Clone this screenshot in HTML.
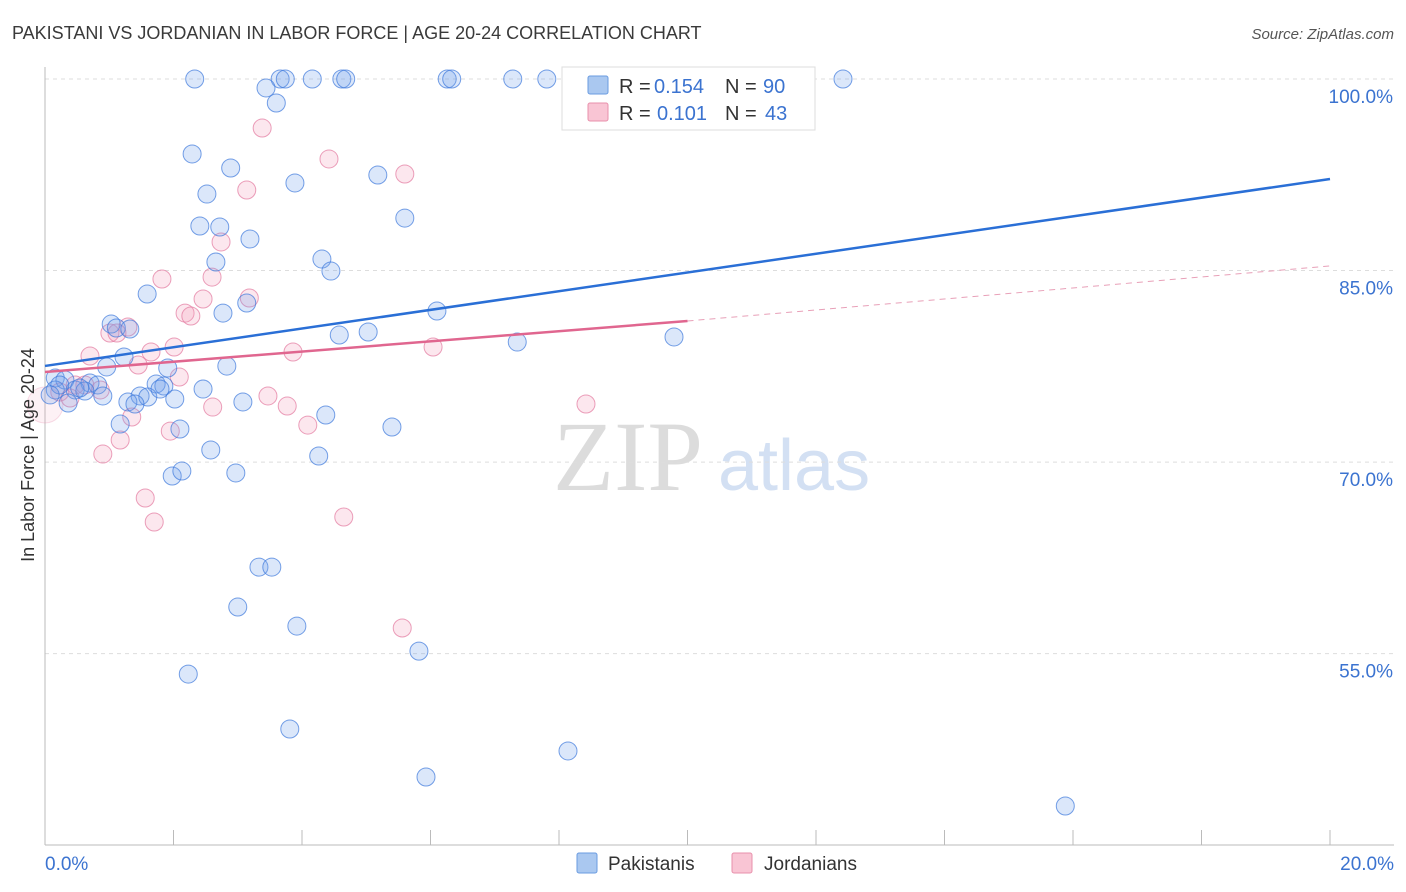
<!DOCTYPE html>
<html><head><meta charset="utf-8"><style>
body{margin:0;background:#fff;font-family:"Liberation Sans",sans-serif;}
svg{display:block}
</style></head><body>
<svg id="c" width="1406" height="892">
<text x="12" y="39" font-size="18" fill="#3a3a3a">PAKISTANI VS JORDANIAN IN LABOR FORCE | AGE 20-24 CORRELATION CHART</text>
<text x="1394" y="39" font-size="15" fill="#555" text-anchor="end" font-style="italic">Source: ZipAtlas.com</text>
<g>
<text x="553" y="490" font-size="100" fill="#dcdcdc" font-family="Liberation Serif,serif">ZIP</text>
<text x="718" y="490" font-size="72" fill="#d3e0f3">atlas</text>
</g>
<g id="grid"></g>
<g id="axes"></g>
<g id="pink"></g>
<g id="blue"></g>
<g id="lines"></g>
<text transform="translate(34,455) rotate(-90)" font-size="18" fill="#333" text-anchor="middle">In Labor Force | Age 20-24</text>
<g>
<rect x="562" y="67" width="253" height="63" fill="#fff" stroke="#ddd"/>
<rect x="588" y="76" width="20" height="18" fill="#aac8f0" stroke="#6a9be0" rx="2"/>
<rect x="588" y="103" width="20" height="18" fill="#f9c5d4" stroke="#e890ab" rx="2"/>
<text x="619" y="93" font-size="20" fill="#333">R =</text><text x="654" y="93" font-size="20" fill="#3b73d0">0.154</text>
<text x="725" y="93" font-size="20" fill="#333">N =</text><text x="763" y="93" font-size="20" fill="#3b73d0">90</text>
<text x="619" y="120" font-size="20" fill="#333">R =</text><text x="657" y="120" font-size="20" fill="#3b73d0">0.101</text>
<text x="725" y="120" font-size="20" fill="#333">N =</text><text x="765" y="120" font-size="20" fill="#3b73d0">43</text>
</g>
<g>
<rect x="577" y="853" width="20" height="20" fill="#aac8f0" stroke="#6a9be0" rx="2"/>
<text x="608" y="870" font-size="19" fill="#333">Pakistanis</text>
<rect x="732" y="853" width="20" height="20" fill="#f9c5d4" stroke="#e890ab" rx="2"/>
<text x="764" y="870" font-size="19" fill="#333">Jordanians</text>
</g>
</svg>
<script>
const bx=[2.33,3.66,3.74,4.16,4.62,4.68,6.26,6.33,7.28,7.81,9.35,12.42,3.44,3.60,2.29,2.89,2.52,3.89,5.18,5.60,2.41,2.72,3.19,2.66,4.31,4.45,1.59,3.14,2.77,6.10,1.03,1.11,1.32,4.58,5.03,7.35,9.79,1.23,0.96,1.91,2.83,0.16,0.31,0.70,0.82,1.73,1.85,0.16,0.47,0.62,0.90,1.48,1.60,2.02,2.46,1.29,1.40,0.36,3.08,4.37,1.17,2.10,5.40,2.58,4.26,1.98,2.13,2.97,3.33,3.53,3.00,3.92,5.82,2.23,3.81,8.14,5.93,15.88,1.79,0.23,0.08,0.54];
const by=[100,100,100,100,100,100,100,100,100,100,100,100,99.30,98.12,94.13,93.03,90.99,91.86,92.48,89.11,88.49,88.41,87.47,85.67,85.90,84.96,83.16,82.46,81.67,81.83,80.81,80.50,80.42,79.95,80.19,79.40,79.80,78.23,77.45,77.37,77.52,76.59,76.43,76.19,76.04,76.12,75.96,75.65,75.65,75.57,75.18,75.18,75.10,74.94,75.72,74.71,74.55,74.63,74.71,73.69,72.98,72.59,72.75,70.95,70.48,68.91,69.30,69.15,61.78,61.78,58.65,57.16,55.20,53.40,49.10,47.38,45.34,43.07,75.72,76.04,75.26,75.80];
const px=[3.38,4.42,5.60,3.14,2.74,2.60,1.82,2.46,2.18,2.27,3.18,1.29,1.01,1.12,2.01,1.65,0.70,1.45,2.09,2.61,3.47,3.77,3.86,6.04,4.09,1.35,1.17,0.90,1.95,1.56,1.70,4.65,5.56,8.42,0.23,0.47,0.62,0.86,0.39,0.0];
const py=[96.16,93.74,92.56,91.31,87.24,84.49,84.34,82.77,81.67,81.44,82.85,80.58,80.11,80.11,79.01,78.62,78.31,77.60,76.66,74.31,75.18,74.39,78.62,79.01,72.90,73.53,71.73,70.63,72.43,67.19,65.31,65.70,57.01,74.55,75.49,76.04,76.04,75.65,75.02,74.47];
const yTicks=[100,85,70,55];
const yTickLabels=["100.0%","85.0%","70.0%","55.0%"];
const xTickLabels=["0.0%","20.0%"];
const blueFit=[77.53,92.17];
const pinkFit=[77.06,81.05,85.36];
const X=v=>45+v/20*1285, Y=v=>79+(100-v)*12.77;
const NS="http://www.w3.org/2000/svg";
function mk(t,a,p){const e=document.createElementNS(NS,t);for(const k in a)e.setAttribute(k,a[k]);document.getElementById(p).appendChild(e);return e;}
yTicks.forEach((t,i)=>{
 const g=mk('line',{x1:45,x2:1394,y1:Y(t),y2:Y(t),stroke:'#ddd','stroke-dasharray':'4,4'},'grid');
 
 
 const l=mk('text',{x:1393,y:Y(t)+24,'font-size':19,fill:'#3b73d0','text-anchor':'end'},'grid');
 l.textContent=yTickLabels[i];
 
 
});
mk('line',{x1:45,x2:45,y1:67,y2:845,stroke:'#bbb'},'axes');
mk('line',{x1:45,x2:1394,y1:845,y2:845,stroke:'#bbb'},'axes');
for(let i=0;i<=10;i++){const t=mk('line',{x1:X(i*2),x2:X(i*2),y1:830,y2:845,stroke:'#bbb'},'axes');
 
 }
const x0=mk('text',{x:45,y:870,'font-size':19,fill:'#3b73d0'},'axes');x0.textContent=xTickLabels[0];


const x1=mk('text',{x:1394,y:870,'font-size':19,fill:'#3b73d0','text-anchor':'end'},'axes');x1.textContent=xTickLabels[1];


px.forEach((v,i)=>{const big=i==px.length-1;const c=mk('circle',{cx:X(v),cy:Y(py[i]),r:(big?18:9),fill:big?'rgba(243,160,188,0.15)':'rgba(243,160,188,0.25)',stroke:big?'rgba(232,143,174,0.3)':'rgba(226,120,158,0.7)','stroke-width':1},'pink');
 
 });
bx.forEach((v,i)=>{const c=mk('circle',{cx:X(v),cy:Y(by[i]),r:9,fill:'rgba(110,160,235,0.25)',stroke:'rgba(60,120,220,0.7)','stroke-width':1},'blue');
 
 });
const bl=mk('line',{x1:X(0),y1:Y(blueFit[0]),x2:X(20),y2:Y(blueFit[1]),stroke:'#2a6fd6','stroke-width':2.5},'lines');


const pl=mk('line',{x1:X(0),y1:Y(pinkFit[0]),x2:X(10),y2:Y(pinkFit[1]),stroke:'#e0668f','stroke-width':2.5},'lines');


const pd=mk('line',{x1:X(10),y1:Y(pinkFit[1]),x2:X(20),y2:Y(pinkFit[2]),stroke:'#e8a0b8','stroke-width':1,'stroke-dasharray':'6,5'},'lines');


</script>
</body></html>
